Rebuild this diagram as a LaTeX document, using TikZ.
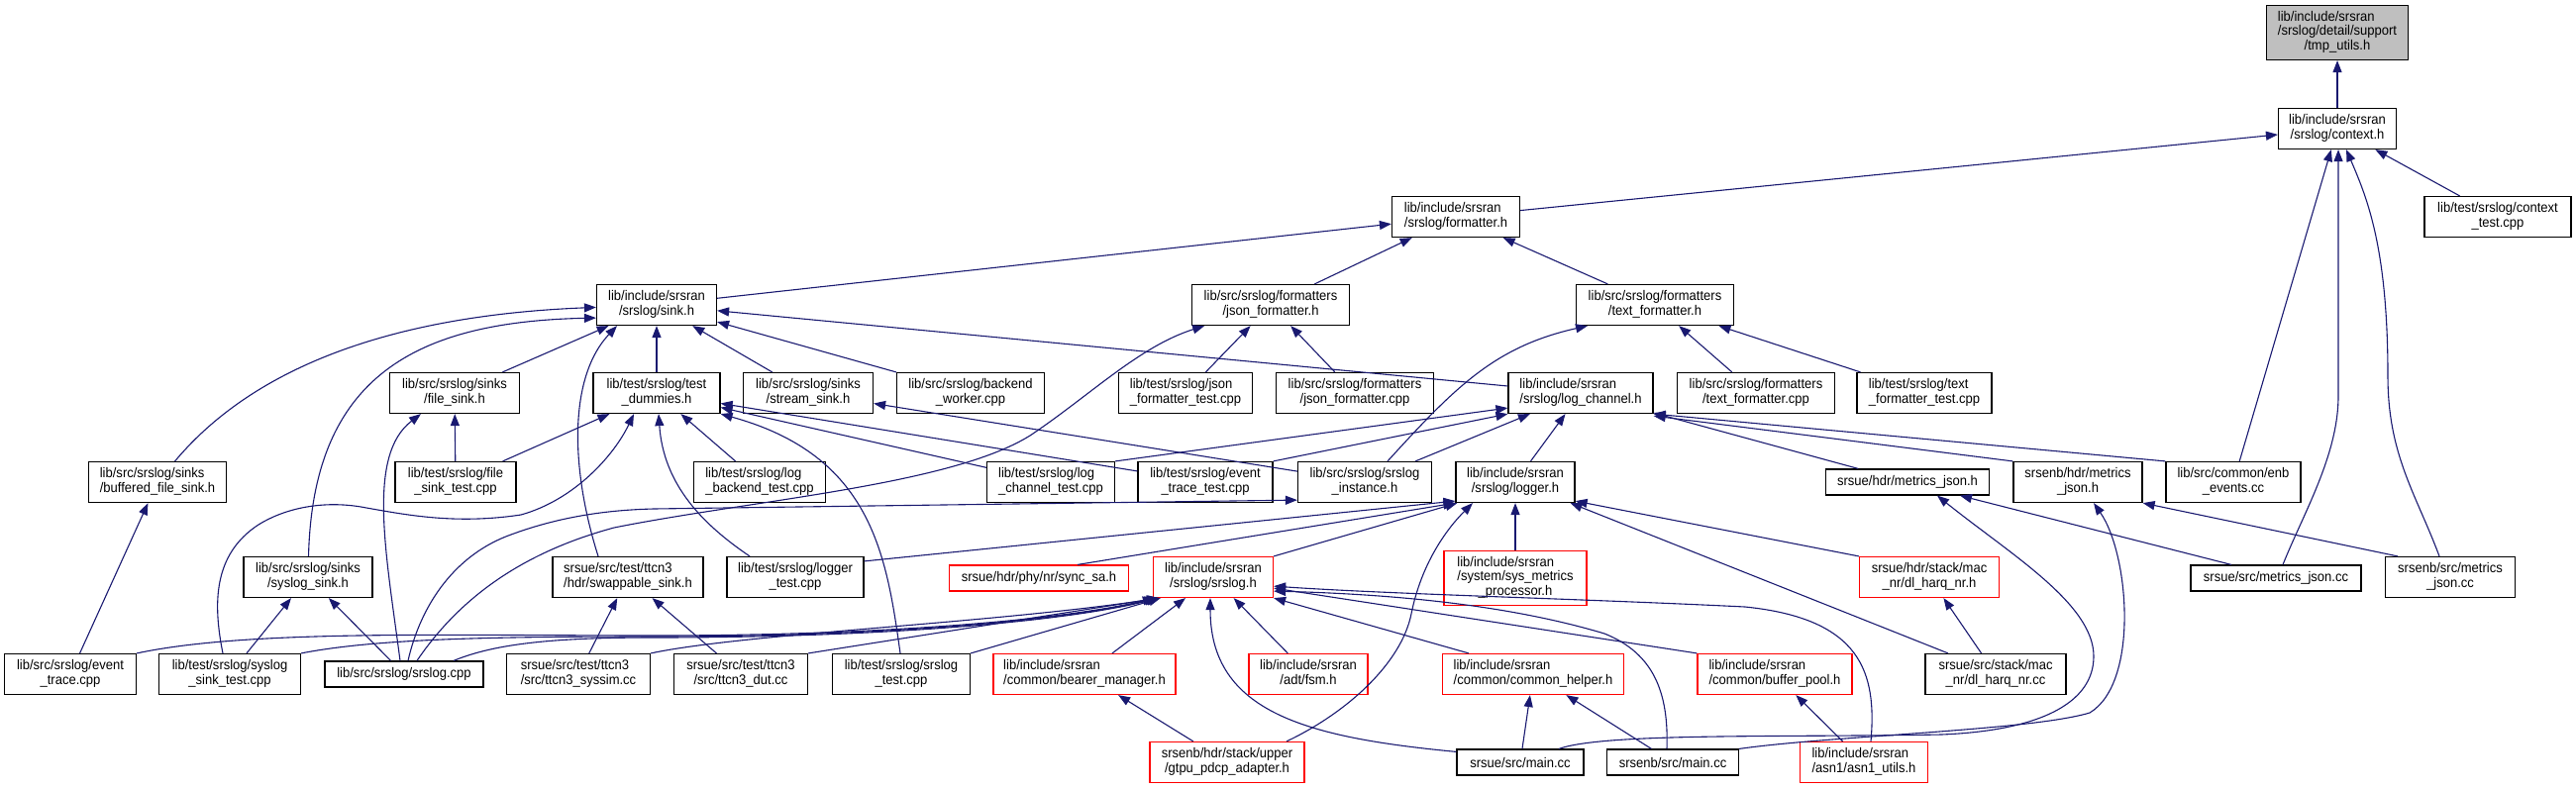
\documentclass[tikz,border=0pt]{standalone}
\usepackage{fontspec}
\setmainfont{Liberation Sans}[FakeStretch=0.93]
\usetikzlibrary{arrows.meta}
\definecolor{edgeblue}{HTML}{191970}
\definecolor{grayfill}{HTML}{BFBFBF}
\newcommand\lbl[1]{\begin{tabular}{@{}l@{}}#1\end{tabular}}
\newcommand\lastc[1]{\multicolumn{1}{@{}c@{}}{#1}}
\begin{document}
\begin{tikzpicture}[x=1pt,y=-1pt,
  box/.style={draw=black,line width=1.2pt,fill=white,inner sep=0pt,minimum height=41pt,font=\fontsize{14}{14.5}\selectfont},
  rbox/.style={box,draw=red},
  gbox/.style={box,fill=grayfill},
  one/.style={minimum height=26pt},
  three/.style={minimum height=55pt},
  e/.style={draw=edgeblue,line width=1.1pt,-{Triangle[length=12pt,width=9pt]}}]
\useasboundingbox (0,0) rectangle (2601,796);
% rank 0-2
\node[gbox,three,minimum width=143pt] (tmp) at (2360,33) {\lbl{lib/include/srsran\\ /srslog/detail/support\\ \lastc{/tmp\_utils.h}}};
\node[box,minimum width=119pt] (ctx) at (2360,130) {\lbl{lib/include/srsran\\ \lastc{/srslog/context.h}}};
\node[box,minimum width=129pt] (fmt) at (1470,219) {\lbl{lib/include/srsran\\ \lastc{/srslog/formatter.h}}};
\node[box,minimum width=148pt] (ctxt) at (2522,219) {\lbl{lib/test/srslog/context\\ \lastc{\_test.cpp}}};
% rank 3
\node[box,minimum width=121pt] (sink) at (663,308) {\lbl{lib/include/srsran\\ \lastc{/srslog/sink.h}}};
\node[box,minimum width=159pt] (jfh) at (1283,308) {\lbl{lib/src/srslog/formatters\\ \lastc{/json\_formatter.h}}};
\node[box,minimum width=159pt] (tfh) at (1671,308) {\lbl{lib/src/srslog/formatters\\ \lastc{/text\_formatter.h}}};
% rank 4
\node[box,minimum width=131pt] (fsink) at (459,397) {\lbl{lib/src/srslog/sinks\\ \lastc{/file\_sink.h}}};
\node[box,minimum width=128pt] (tdum) at (663,397) {\lbl{lib/test/srslog/test\\ \lastc{\_dummies.h}}};
\node[box,minimum width=131pt] (ssink) at (816,397) {\lbl{lib/src/srslog/sinks\\ \lastc{/stream\_sink.h}}};
\node[box,minimum width=149pt] (bw) at (980,397) {\lbl{lib/src/srslog/backend\\ \lastc{\_worker.cpp}}};
\node[box,minimum width=135pt] (jft) at (1197,397) {\lbl{lib/test/srslog/json\\ \lastc{\_formatter\_test.cpp}}};
\node[box,minimum width=159pt] (jfc) at (1368,397) {\lbl{lib/src/srslog/formatters\\ \lastc{/json\_formatter.cpp}}};
\node[box,minimum width=146pt] (lch) at (1596,397) {\lbl{lib/include/srsran\\ \lastc{/srslog/log\_channel.h}}};
\node[box,minimum width=159pt] (tfc) at (1773,397) {\lbl{lib/src/srslog/formatters\\ \lastc{/text\_formatter.cpp}}};
\node[box,minimum width=136pt] (tft) at (1943,397) {\lbl{lib/test/srslog/text\\ \lastc{\_formatter\_test.cpp}}};
% rank 5
\node[box,minimum width=139pt] (bfs) at (159,487) {\lbl{lib/src/srslog/sinks\\ \lastc{/buffered\_file\_sink.h}}};
\node[box,minimum width=122pt] (fst) at (460,487) {\lbl{lib/test/srslog/file\\ \lastc{\_sink\_test.cpp}}};
\node[box,minimum width=133pt] (lbt) at (767,487) {\lbl{lib/test/srslog/log\\ \lastc{\_backend\_test.cpp}}};
\node[box,minimum width=129pt] (lct) at (1061,487) {\lbl{lib/test/srslog/log\\ \lastc{\_channel\_test.cpp}}};
\node[box,minimum width=136pt] (ett) at (1217,487) {\lbl{lib/test/srslog/event\\ \lastc{\_trace\_test.cpp}}};
\node[box,minimum width=135pt] (sinst) at (1378,487) {\lbl{lib/src/srslog/srslog\\ \lastc{\_instance.h}}};
\node[box,minimum width=120pt] (lgr) at (1530,487) {\lbl{lib/include/srsran\\ \lastc{/srslog/logger.h}}};
\node[box,one,minimum width=165pt] (uemj) at (1926,487) {srsue/hdr/metrics\_json.h};
\node[box,minimum width=130pt] (enbmj) at (2098,487) {\lbl{srsenb/hdr/metrics\\ \lastc{\_json.h}}};
\node[box,minimum width=136pt] (enbev) at (2255,487) {\lbl{lib/src/common/enb\\ \lastc{\_events.cc}}};
% rank 6
\node[box,minimum width=130pt] (ssk) at (311,583) {\lbl{lib/src/srslog/sinks\\ \lastc{/syslog\_sink.h}}};
\node[box,minimum width=152pt] (swp) at (634,583) {\lbl{srsue/src/test/ttcn3\\ \lastc{/hdr/swappable\_sink.h}}};
\node[box,minimum width=138pt] (lgt) at (803,583) {\lbl{lib/test/srslog/logger\\ \lastc{\_test.cpp}}};
\node[rbox,one,minimum width=181pt] (sync) at (1049,584) {srsue/hdr/phy/nr/sync\_sa.h};
\node[rbox,minimum width=121pt] (slh) at (1225,583) {\lbl{lib/include/srsran\\ \lastc{/srslog/srslog.h}}};
\node[rbox,three,minimum width=144pt] (smp) at (1530,584) {\lbl{lib/include/srsran\\ /system/sys\_metrics\\ \lastc{\_processor.h}}};
\node[rbox,minimum width=141pt] (dhh) at (1948,583) {\lbl{srsue/hdr/stack/mac\\ \lastc{\_nr/dl\_harq\_nr.h}}};
\node[box,one,minimum width=172pt] (uemjc) at (2298,584) {srsue/src/metrics\_json.cc};
\node[box,minimum width=131pt] (enbmjc) at (2474,583) {\lbl{srsenb/src/metrics\\ \lastc{\_json.cc}}};
% rank 7
\node[box,minimum width=133pt] (etc) at (71,681) {\lbl{lib/src/srslog/event\\ \lastc{\_trace.cpp}}};
\node[box,minimum width=143pt] (sst) at (232,681) {\lbl{lib/test/srslog/syslog\\ \lastc{\_sink\_test.cpp}}};
\node[box,one,minimum width=160pt] (scpp) at (408,681) {lib/src/srslog/srslog.cpp};
\node[box,minimum width=145pt] (sys) at (584,681) {\lbl{srsue/src/test/ttcn3\\ \lastc{/src/ttcn3\_syssim.cc}}};
\node[box,minimum width=135pt] (dut) at (748,681) {\lbl{srsue/src/test/ttcn3\\ \lastc{/src/ttcn3\_dut.cc}}};
\node[box,minimum width=139pt] (slt) at (910,681) {\lbl{lib/test/srslog/srslog\\ \lastc{\_test.cpp}}};
\node[rbox,minimum width=184pt] (bm) at (1095,681) {\lbl{lib/include/srsran\\ \lastc{/common/bearer\_manager.h}}};
\node[rbox,minimum width=120pt] (fsm) at (1321,681) {\lbl{lib/include/srsran\\ \lastc{/adt/fsm.h}}};
\node[rbox,minimum width=183pt] (ch) at (1548,681) {\lbl{lib/include/srsran\\ \lastc{/common/common\_helper.h}}};
\node[rbox,minimum width=156pt] (bp) at (1792,681) {\lbl{lib/include/srsran\\ \lastc{/common/buffer\_pool.h}}};
\node[box,minimum width=142pt] (dhc) at (2015,681) {\lbl{srsue/src/stack/mac\\ \lastc{\_nr/dl\_harq\_nr.cc}}};
% rank 8
\node[rbox,minimum width=156pt] (gtpu) at (1239,770) {\lbl{srsenb/hdr/stack/upper\\ \lastc{/gtpu\_pdcp\_adapter.h}}};
\node[box,one,minimum width=128pt] (uemain) at (1535,770) {srsue/src/main.cc};
\node[box,one,minimum width=133pt] (enbmain) at (1689,770) {srsenb/src/main.cc};
\node[rbox,minimum width=129pt] (asn1) at (1882,770) {\lbl{lib/include/srsran\\ \lastc{/asn1/asn1\_utils.h}}};

% ---- edges ----
\draw[e] (ctx) -- (tmp);
\draw[e] (fmt) -- (ctx);
\draw[e] (ctxt) -- (ctx);
\draw[e] (enbev) -- (ctx);
\draw[e] ([xshift=7pt]uemjc.north) .. controls (2325,520) and (2361,460) .. (2361,400) -- ([xshift=1pt]ctx.south);
\draw[e] ([xshift=-11pt]enbmjc.north) .. controls (2440,500) and (2411,460) .. (2411,380) .. controls (2411,250) and (2390,200) .. (ctx);
\draw[e] (sink) -- (fmt);
\draw[e] (jfh) -- (fmt);
\draw[e] (tfh) -- (fmt);
% sink.h
\draw[e] (bfs) .. controls (240,390) and (360,320) .. (sink);
\draw[e] (ssk) .. controls (316,380) and (420,325) .. ([yshift=8pt]sink.south west);
\draw[e] (fsink) -- (sink);
\draw[e] (tdum) -- (sink);
\draw[e] (ssink) -- (sink);
\draw[e] (bw) -- (sink);
\draw[e] ([xshift=-30pt]swp.north) .. controls (575,470) and (575,380) .. ([xshift=-40pt]sink.south);
\draw[e] (lch) -- (sink);
% file_sink.h
\draw[e] (fst) -- (fsink);
\draw[e] ([xshift=-4pt]scpp.north) .. controls (390,560) and (370,460) .. ([xshift=-34pt]fsink.south);
% test_dummies.h
\draw[e] (fst) -- (tdum);
\draw[e] ([xshift=-7pt]sst.north) .. controls (215,610) and (215,560) .. (261,530) .. controls (290,512) and (330,505) .. (370,513) .. controls (410,520) and (460,530) .. (526,520) .. controls (580,505) and (620,460) .. ([xshift=-23pt]tdum.south);
\draw[e] (lbt) -- (tdum);
\draw[e] ([xshift=-46pt]lgt.north) .. controls (710,530) and (670,490) .. ([xshift=2pt]tdum.south);
\draw[e] ([xshift=-1pt]slt.north) .. controls (895,560) and (880,460) .. (tdum.south east);
\draw[e] (lct) -- (tdum);
\draw[e] (ett) -- (tdum);
% stream_sink.h
\draw[e] (sinst) -- (ssink);
% json_formatter.h
\draw[e] (jft) -- (jfh);
\draw[e] (jfc) -- (jfh);
\draw[e] ([xshift=13pt]scpp.north) .. controls (460,610) and (520,560) .. (620,533) .. controls (760,505) and (960,490) .. (1040,440) .. controls (1100,400) and (1150,350) .. (jfh);
% text_formatter.h
\draw[e] (tfc) -- (tfh);
\draw[e] (tft) -- (tfh);
\draw[e] ([xshift=23pt]sinst.north) .. controls (1470,390) and (1510,350) .. ([xshift=-68pt]tfh.south);
% log_channel.h
\draw[e] (lct.north east) -- ([yshift=6pt]lch.south west);
\draw[e] (ett.north east) -- (lch.south west);
\draw[e] (sinst) -- (lch);
\draw[e] (lgr) -- (lch);
\draw[e] (enbev.north west) -- (lch.south east);
\draw[e] (enbmj.north west) -- ([yshift=-2pt]lch.south east);
\draw[e] (uemj) -- (lch);
% syslog_sink.h
\draw[e] (sst) -- (ssk);
\draw[e] (scpp) -- (ssk);
% buffered_file_sink.h
\draw[e] (etc) -- (bfs);
% srslog_instance.h
\draw[e] ([xshift=4pt]scpp.north) .. controls (425,610) and (460,560) .. (516,540) .. controls (570,520) and (620,515) .. (660,514) -- ([yshift=3pt]sinst.south west);
% swappable_sink.h
\draw[e] (sys) -- (swp);
\draw[e] (dut) -- (swp);
% logger.h
\draw[e] ([yshift=-5pt]lgt.north east) -- ([yshift=2pt]lgr.south west);
\draw[e] ([xshift=39pt]sync.north) -- (lgr.south west);
\draw[e] (slh.north east) -- ([xshift=2pt]lgr.south west);
\draw[e] ([xshift=60pt]gtpu.north) .. controls (1360,720) and (1415,670) .. (1425,620) .. controls (1435,570) and (1460,535) .. ([xshift=-43pt]lgr.south);
\draw[e] (smp) -- (lgr);
\draw[e] (dhh.north west) -- ([yshift=2pt]lgr.south east);
\draw[e] ([xshift=-48pt]dhc.north) -- ([xshift=-5pt]lgr.south east);
% srslog.h
\draw[e] (etc.north east) .. controls (250,636) and (450,642) .. (660,642) .. controls (900,642) and (1080,625) .. ([xshift=2pt]slh.south west);
\draw[e] (sst.north east) .. controls (380,645) and (500,643) .. (660,643) .. controls (900,643) and (1080,626) .. ([xshift=4pt]slh.south west);
\draw[e] ([xshift=50pt]scpp.north) .. controls (500,650) and (560,644) .. (660,644) .. controls (900,644) and (1080,627) .. ([xshift=6pt]slh.south west);
\draw[e] (sys.north east) .. controls (750,640) and (1000,630) .. ([xshift=7pt]slh.south west);
\draw[e] (dut.north east) -- ([xshift=6pt]slh.south west);
\draw[e] (slt.north east) -- ([xshift=8pt]slh.south west);
\draw[e] (bm) -- (slh);
\draw[e] (fsm) -- (slh);
\draw[e] ([xshift=-65pt]ch.north) -- (slh.south east);
\draw[e] (bp.north west) -- ([yshift=10pt]slh.south east);
\draw[e] ([xshift=-6pt]enbmain.north) .. controls (1685,700) and (1670,660) .. (1620,640) .. controls (1520,610) and (1400,600) .. ([yshift=7pt]slh.south east);
\draw[e] ([xshift=7pt]asn1.north) .. controls (1895,680) and (1880,625) .. (1762,613) .. controls (1600,605) and (1400,600) .. ([yshift=12pt]slh.south east);
\draw[e] ([yshift=-3pt]uemain.north west) .. controls (1320,745) and (1222,720) .. ([xshift=-3pt]slh.south);
% bearer_manager.h
\draw[e] (gtpu) -- (bm);
% common_helper.h
\draw[e] (uemain) -- (ch);
\draw[e] (enbmain) -- (ch);
% buffer_pool.h
\draw[e] (asn1) -- (bp);
% dl_harq_nr.h
\draw[e] (dhc) -- (dhh);
% metrics_json.h (srsue)
\draw[e] ([xshift=-45pt]uemjc.north) -- ([xshift=53pt]uemj.south);
\draw[e] ([xshift=39pt]uemain.north) .. controls (1620,740) and (1800,745) .. (1960,742) .. controls (2060,738) and (2114,710) .. (2114,663) .. controls (2114,610) and (2030,560) .. ([xshift=30pt]uemj.south);
% metrics_json.h (srsenb)
\draw[e] (enbmain.north east) .. controls (1850,743) and (2050,738) .. (2110,720) .. controls (2160,690) and (2150,560) .. ([xshift=16pt]enbmj.south);
\draw[e] ([xshift=-53pt]enbmjc.north) -- (enbmj.south east);
\end{tikzpicture}
\end{document}
